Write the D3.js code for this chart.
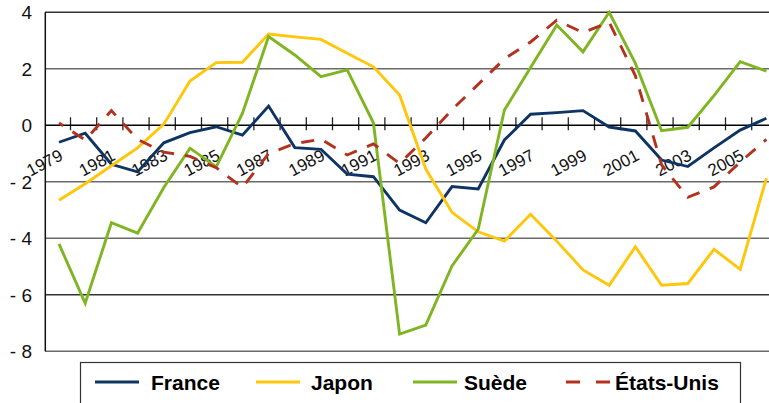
<!DOCTYPE html>
<html>
<head>
<meta charset="utf-8">
<script src="https://cdn.jsdelivr.net/npm/d3@7"></script>
<style>
  html, body { margin: 0; padding: 0; background: #fff; }
  svg { display: block; font-family: "Liberation Sans", Arial, Helvetica, sans-serif; }
</style>
</head>
<body>
<svg id="chart" width="769" height="403"></svg>
<script>
// Years on the category axis
const years = [1979, 1980, 1981, 1982, 1983, 1984, 1985, 1986, 1987, 1988, 1989, 1990, 1991, 1992,
               1993, 1994, 1995, 1996, 1997, 1998, 1999, 2000, 2001, 2002, 2003, 2004, 2005, 2006];
const labelYears = [1979, 1981, 1983, 1985, 1987, 1989, 1991, 1993, 1995, 1997, 1999, 2001, 2003, 2005];

// Series values, one per year
const france = [-0.6, -0.28, -1.38, -1.65, -0.62, -0.26, -0.05, -0.35, 0.68, -0.79, -0.85, -1.73, -1.82, -3.0,
                -3.45, -2.17, -2.25, -0.52, 0.39, 0.45, 0.52, -0.06, -0.2, -1.23, -1.46, -0.8, -0.17, 0.25];
const japon  = [-2.65, -2.07, -1.43, -0.8, 0.04, 1.57, 2.22, 2.23, 3.23, 3.13, 3.04, 2.55, 2.07, 1.07,
                -1.55, -3.08, -3.77, -4.1, -3.15, -4.1, -5.12, -5.66, -4.3, -5.66, -5.6, -4.39, -5.1, -1.87];
const suede  = [-4.2, -6.3, -3.45, -3.82, -2.2, -0.81, -1.47, 0.42, 3.14, 2.49, 1.72, 1.96, 0.09, -7.39,
                -7.07, -4.98, -3.68, 0.54, 2.05, 3.55, 2.6, 4.0, 2.19, -0.19, -0.07, 1.05, 2.25, 1.92];
const etatsUnis = [0.08, -0.52, 0.52, -0.5, -0.95, -1.1, -1.5, -2.2, -1.0, -0.65, -0.49, -1.05, -0.66, -1.35,
                -0.45, 0.55, 1.45, 2.35, 2.95, 3.72, 3.28, 3.65, 1.75, -1.4, -2.55, -2.18, -1.3, -0.5];

// Value axis ticks and their printed labels
const yTicks = [4, 2, 0, -2, -4, -6, -8];
const yTickLabels = ["4", "2", "0", "- 2", "- 4", "- 6", "- 8"];

const seriesNames = ["France", "Japon", "Suède", "États-Unis"];
const seriesColors = ["#0e3464", "#ffc60a", "#7fb520", "#b3321f"];
const seriesValues = [france, japon, suede, etatsUnis];

const svg = d3.select("#chart");
const W = 769;

// Scales
const y = d3.scaleLinear().domain([-8, 4]).range([351.3, 12.3]);
const x = d3.scaleLinear().domain([1979, 2007]).range([43.8, 777.4]);   // category bands
const px = yr => x(yr + 0.58);                                          // point position inside a band

// Horizontal gridlines
svg.append("g").selectAll("line")
  .data(yTicks.filter(d => d !== 0))
  .join("line")
  .attr("x1", 45).attr("x2", W)
  .attr("y1", d => y(d)).attr("y2", d => y(d))
  .attr("stroke", d => (d === 4 || d === -6) ? "#333" : "#6a6a6a")
  .attr("stroke-width", 1.6);

// Value axis line
svg.append("line")
  .attr("x1", 45.3).attr("x2", 45.3)
  .attr("y1", y(4)).attr("y2", y(-8))
  .attr("stroke", "#111").attr("stroke-width", 1.5);

// Value axis labels
svg.append("g").selectAll("text")
  .data(yTicks)
  .join("text")
  .attr("x", 32).attr("y", d => y(d))
  .attr("dy", "0.36em")
  .attr("text-anchor", "end")
  .attr("font-size", 19)
  .attr("fill", "#111")
  .text((d, i) => yTickLabels[i]);

// Category axis crossing at zero, ticks on band boundaries
const xAxis = d3.axisBottom(x)
  .tickValues(years.slice(1))
  .tickSize(5)
  .tickFormat("");
const gx = svg.append("g")
  .attr("transform", `translate(0,${y(0)})`)
  .call(xAxis);
gx.select(".domain").remove();
gx.selectAll(".tick line").attr("y1", -8).attr("stroke", "#222").attr("stroke-width", 1.3);
svg.append("line")
  .attr("x1", 45).attr("x2", W)
  .attr("y1", y(0)).attr("y2", y(0))
  .attr("stroke", "#000").attr("stroke-width", 1.5);

// Rotated year labels
svg.append("g").selectAll("text")
  .data(labelYears)
  .join("text")
  .attr("transform", d => `translate(${px(d) + 5},159) rotate(-28)`)
  .attr("text-anchor", "end")
  .attr("font-size", 17)
  .attr("fill", "#111")
  .text(d => d);

// Series lines
const line = d3.line()
  .x((d, i) => px(years[i]))
  .y(d => y(d));

svg.append("g").selectAll("path")
  .data(seriesValues)
  .join("path")
  .attr("d", d => line(d))
  .attr("fill", "none")
  .attr("stroke", (d, i) => seriesColors[i])
  .attr("stroke-width", 2.9)
  .attr("stroke-linejoin", "miter")
  .attr("stroke-dasharray", (d, i) => i === 3 ? "13,11" : null)
  .attr("stroke-dashoffset", (d, i) => i === 3 ? 8 : null);

// Legend
const legend = svg.append("g");
legend.append("rect")
  .attr("x", 80.5).attr("y", 362.5)
  .attr("width", 660).attr("height", 50)
  .attr("fill", "#fff").attr("stroke", "#333").attr("stroke-width", 1.2);

const legendSwatchX = [95, 256, 413, 566];
const legendTextX = [151, 311, 464, 615];
const legendY = 382;

legend.selectAll("line.sw")
  .data(seriesNames)
  .join("line")
  .attr("class", "sw")
  .attr("x1", (d, i) => legendSwatchX[i]).attr("x2", (d, i) => legendSwatchX[i] + 44)
  .attr("y1", legendY).attr("y2", legendY)
  .attr("stroke", (d, i) => seriesColors[i])
  .attr("stroke-width", 2.8)
  .attr("stroke-dasharray", (d, i) => i === 3 ? "14,16" : null);

legend.selectAll("text")
  .data(seriesNames)
  .join("text")
  .attr("x", (d, i) => legendTextX[i])
  .attr("y", legendY)
  .attr("dy", "0.36em")
  .attr("font-size", 21)
  .attr("font-weight", "bold")
  .attr("fill", "#000")
  .text(d => d);
</script>
</body>
</html>
